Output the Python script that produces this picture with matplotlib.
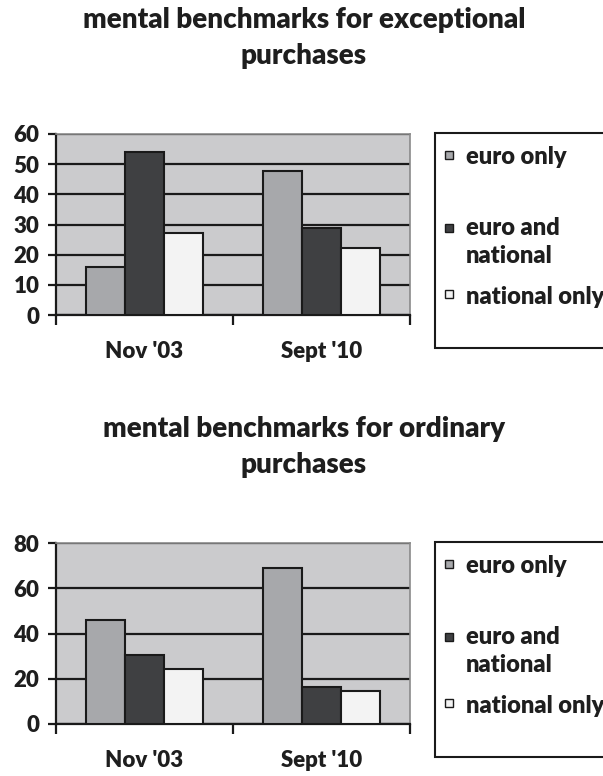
import matplotlib.pyplot as plt
import numpy as np
from matplotlib.patches import Rectangle

# data
periods = ["Nov '03", "Sept '10"]
series_names = ["euro only", "euro and\nnational", "national only"]
exceptional = {
    "euro only": [16, 47.8],
    "euro and national": [54, 29],
    "national only": [27.3, 22.1],
}
ordinary = {
    "euro only": [45.8, 68.9],
    "euro and national": [30.4, 16.2],
    "national only": [24.2, 14.8],
}
colors = ["#a7a8ab", "#3f4042", "#f3f3f3"]

W, H = 603, 776
plt.rcParams['font.family'] = ['Lato', 'DejaVu Sans']
txt_color = "#1e1e1e"
WEIGHT = 'heavy'

fig = plt.figure(figsize=(W / 100, H / 100), dpi=100)


def fx(px):
    return px / W


def fy(py):
    return 1 - py / H


def draw_panel(title, data, ymax, ystep, top_px):
    # titre sur deux lignes
    lines = title.split("\n")
    fig.text(fx(304), fy(top_px - 114), lines[0], ha='center', va='center',
             fontsize=20, color=txt_color, fontweight=WEIGHT)
    fig.text(fx(304), fy(top_px - 78), lines[1], ha='center', va='center',
             fontsize=20, color=txt_color, fontweight=WEIGHT)

    bottom_px = top_px + 181
    ax = fig.add_axes([fx(56), fy(bottom_px), fx(410) - fx(56), fy(top_px) - fy(bottom_px)])
    ax.set_facecolor("#cbcbcd")
    x = np.arange(len(periods))
    w = 0.222
    for i, (name, vals) in enumerate(data.items()):
        ax.bar(x + (i - 1) * w, vals, width=w, color=colors[i],
               edgecolor="#1a1a1a", linewidth=1.5, zorder=3)
    ax.set_xlim(-0.5, 1.5)
    ax.set_ylim(0, ymax)
    ax.set_yticks(np.arange(0, ymax + 1, ystep))
    ax.grid(axis='y', color="#1a1a1a", linewidth=1.6, zorder=1)
    ax.set_axisbelow(True)
    for s in ['top', 'right']:
        ax.spines[s].set_color("#8a8a8a")
        ax.spines[s].set_linewidth(1.2)
    for s in ['left', 'bottom']:
        ax.spines[s].set_color("#1a1a1a")
        ax.spines[s].set_linewidth(1.6)
    ax.tick_params(axis='y', direction='out', length=6, width=1.6, color="#1a1a1a",
                   labelsize=16, labelcolor=txt_color, pad=6)
    ax.set_xticks([-0.5, 0.5, 1.5])
    ax.set_xticklabels([])
    ax.tick_params(axis='x', direction='out', length=7, width=1.6, color="#1a1a1a")
    ax.set_xticks(x, minor=True)
    ax.set_xticklabels(periods, minor=True)
    ax.tick_params(axis='x', which='minor', length=0, labelsize=16, labelcolor=txt_color, pad=19)
    for lab in ax.get_yticklabels() + ax.get_xticklabels(minor=True):
        lab.set_fontweight(WEIGHT)

    # boîte de légende (coupée à droite)
    leg_top = top_px - 1
    leg_bot = top_px + 214
    fig.add_artist(Rectangle((fx(435), fy(leg_bot)), fx(620) - fx(435), fy(leg_top) - fy(leg_bot),
                             transform=fig.transFigure, facecolor='white',
                             edgecolor="#1a1a1a", linewidth=1.5))
    rows = [(21, 23), (94, 108), (160, 163)]
    for i, name in enumerate(series_names):
        my, ty = rows[i]
        fig.add_artist(Rectangle((fx(445), fy(top_px + my + 4)), fx(8), fy(0) - fy(8),
                                 transform=fig.transFigure, facecolor=colors[i],
                                 edgecolor="#1a1a1a", linewidth=1.0))
        fig.text(fx(466), fy(top_px + ty), name, ha='left', va='center', fontsize=17,
                 color=txt_color, fontweight=WEIGHT, linespacing=1.3)


draw_panel("mental benchmarks for exceptional\npurchases", exceptional, 60, 10, 134)
draw_panel("mental benchmarks for ordinary\npurchases", ordinary, 80, 20, 543)

fig.savefig("out.png", dpi=100)
